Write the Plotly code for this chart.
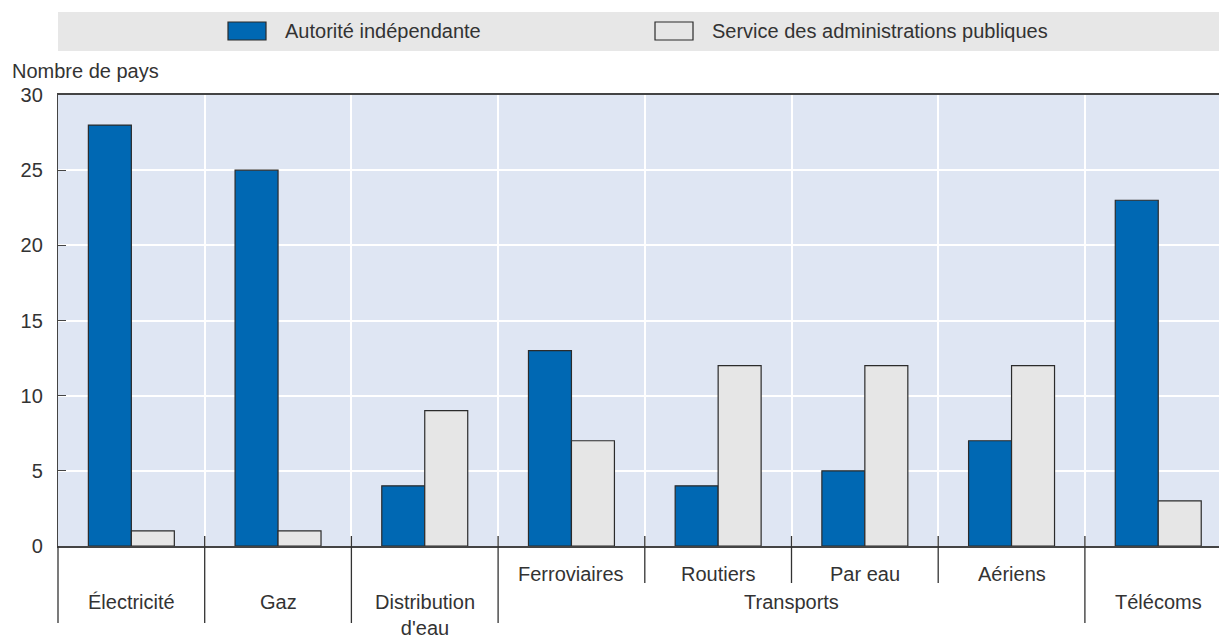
import plotly.graph_objects as go

categories = ["Électricité", "Gaz", "Distribution<br>d'eau", "Ferroviaires", "Routiers", "Par eau", "Aériens", "Télécoms"]
inner_labels = ["", "", "", "Ferroviaires", "Routiers", "Par eau", "Aériens", ""]
outer_labels = [("Électricité", 0), ("Gaz", 1), ("Distribution<br>d'eau", 2), ("Transports", 4.5), ("Télécoms", 7)]
series_names = ["Autorité indépendante", "Service des administrations publiques"]
independante = [28, 25, 4, 13, 4, 5, 7, 23]
administrations = [1, 1, 9, 7, 12, 12, 12, 3]
y_ticks = [0, 5, 10, 15, 20, 25, 30]

BLUE = "#0068B3"
GREY = "#E6E6E6"
TXT = "#333333"
FONT = "Liberation Sans, Arial, sans-serif"
FS = 20

W, H = 1219, 638
ML, MT, MB = 58, 95, 92
plot_w = W - ML
plot_h = H - MT - MB
cat_px = 146.7
x0 = -0.5
x1 = x0 + plot_w / cat_px

xs = list(range(len(categories)))

fig = go.Figure()
fig.add_trace(go.Bar(x=xs, y=independante, name=series_names[0],
                     marker=dict(color=BLUE, line=dict(color="#2b2b2b", width=1.2))))
fig.add_trace(go.Bar(x=xs, y=administrations, name=series_names[1],
                     marker=dict(color=GREY, line=dict(color="#2b2b2b", width=1.2))))

def xp(v):
    return (v - x0) / (x1 - x0)

def yp(px):
    return (H - MB - px) / plot_h

shapes = []
# legend band
shapes.append(dict(type="rect", xref="paper", yref="paper", x0=0, x1=1, y0=yp(51), y1=yp(12),
                   fillcolor="#E7E7E7", line=dict(width=0), layer="below"))
# legend swatches
shapes.append(dict(type="rect", xref="paper", yref="paper", x0=(228 - ML) / plot_w, x1=(266 - ML) / plot_w,
                   y0=yp(40), y1=yp(22), fillcolor=BLUE, line=dict(color="#2b2b2b", width=1.2)))
shapes.append(dict(type="rect", xref="paper", yref="paper", x0=(655 - ML) / plot_w, x1=(693 - ML) / plot_w,
                   y0=yp(40), y1=yp(22), fillcolor=GREY, line=dict(color="#2b2b2b", width=1.2)))
# separators below axis
sep = [(-0.5, 546, 623), (0.5, 536, 623), (1.5, 536, 623), (2.5, 536, 623),
       (3.5, 536, 583), (4.5, 536, 583), (5.5, 536, 583), (6.5, 536, 623)]
for xv, ya, yb in sep:
    shapes.append(dict(type="line", xref="paper", yref="paper", x0=xp(xv), x1=xp(xv),
                       y0=yp(ya), y1=yp(yb), line=dict(color="#333333", width=1.3)))

annotations = []
annotations.append(dict(text=series_names[0], xref="paper", yref="paper", x=(283 - ML) / plot_w, y=yp(31),
                        xanchor="left", yanchor="middle", showarrow=False, font=dict(size=FS, color=TXT, family=FONT)))
annotations.append(dict(text=series_names[1], xref="paper", yref="paper", x=(710 - ML) / plot_w, y=yp(31),
                        xanchor="left", yanchor="middle", showarrow=False, font=dict(size=FS, color=TXT, family=FONT)))
annotations.append(dict(text="Nombre de pays", xref="paper", yref="paper", x=(10 - ML) / plot_w, y=yp(71),
                        xanchor="left", yanchor="middle", showarrow=False, font=dict(size=FS, color=TXT, family=FONT)))
for i, lab in enumerate(inner_labels):
    if lab:
        annotations.append(dict(text=lab, xref="x", yref="paper", x=i, y=yp(574), xanchor="center",
                                yanchor="middle", showarrow=False, font=dict(size=FS, color=TXT, family=FONT)))
for lab, pos in outer_labels:
    annotations.append(dict(text=lab, xref="x", yref="paper", x=pos, y=yp(589), xanchor="center",
                            yanchor="top", showarrow=False, font=dict(size=FS, color=TXT, family=FONT)))

fig.update_layout(
    width=W, height=H,
    margin=dict(l=ML, r=0, t=MT, b=MB),
    paper_bgcolor="white", plot_bgcolor="#DFE6F3",
    barmode="group", bargap=0.414, bargroupgap=0,
    showlegend=False,
    font=dict(family=FONT, size=FS, color=TXT),
    shapes=shapes, annotations=annotations,
    xaxis=dict(range=[x0, x1], tickvals=[i + 0.5 for i in range(len(categories) - 1)],
               showticklabels=False, ticks="", showgrid=True, gridcolor="white", gridwidth=1.5,
               showline=True, linecolor="#444444", linewidth=1.5, mirror=True, zeroline=False),
    yaxis=dict(range=[0, 30], tickvals=y_ticks, ticks="inside", ticklen=8, tickcolor="#444444",
               tickwidth=1.3, showgrid=True, gridcolor="white", gridwidth=1.5,
               showline=True, linecolor="#444444", linewidth=1.3, zeroline=False,
               tickfont=dict(size=FS, color=TXT, family=FONT), ticklabelstandoff=10),
)

fig.write_html("out.html", config={"displayModeBar": False},
               post_script="document.body.style.margin='0';document.body.style.overflow='hidden';")
